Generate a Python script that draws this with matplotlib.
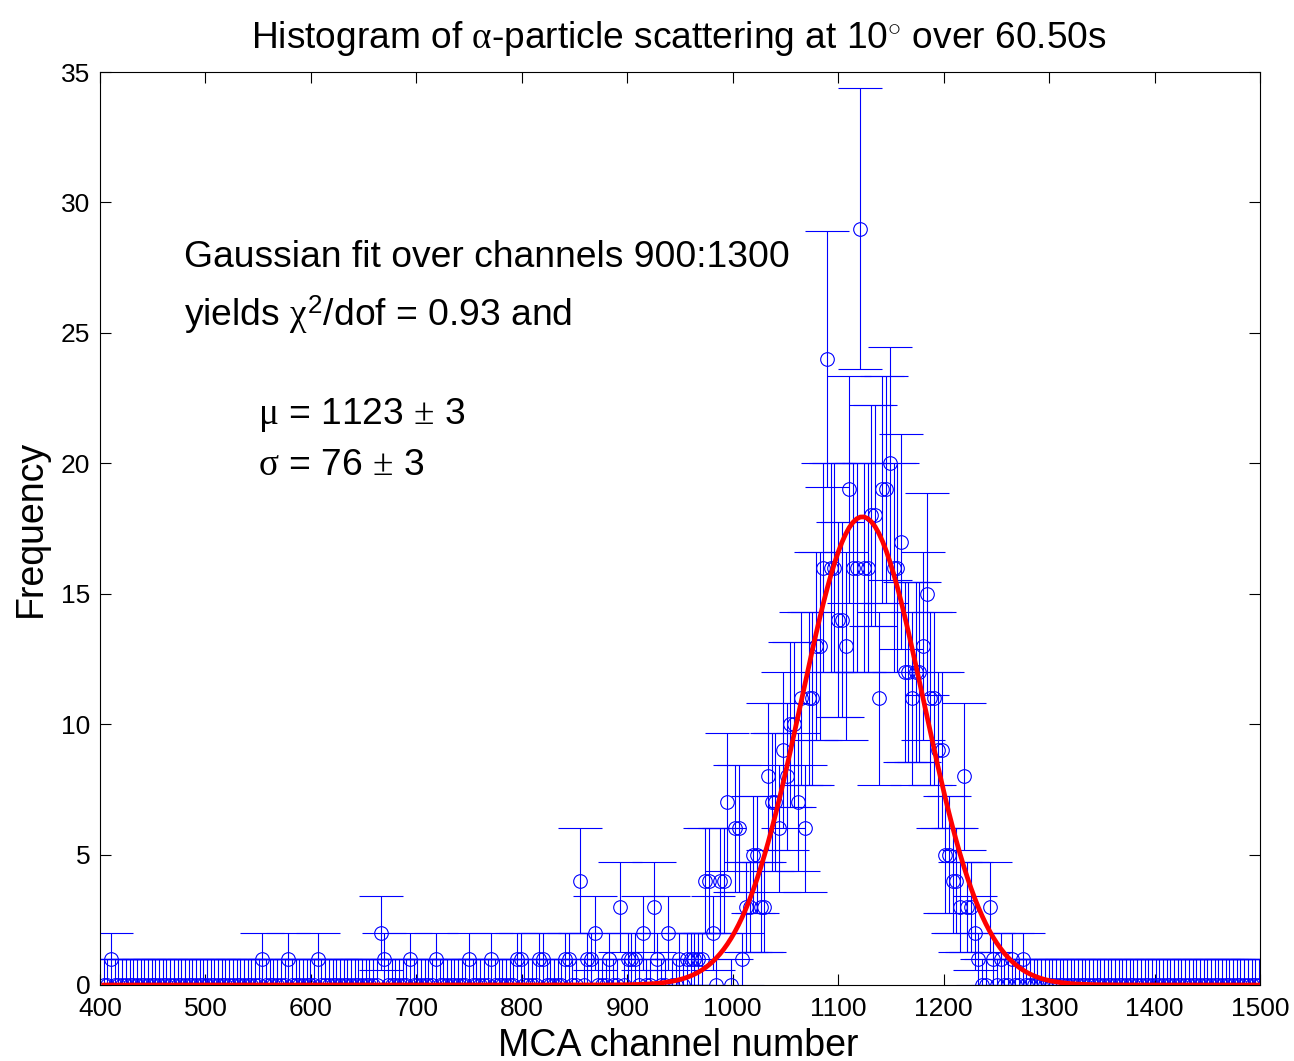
import numpy as np
import matplotlib
matplotlib.use('Agg')
import matplotlib.pyplot as plt

plt.rcParams['font.family'] = ['Liberation Sans', 'DejaVu Sans']
plt.rcParams['mathtext.fontset'] = 'custom'
plt.rcParams['mathtext.rm'] = 'Liberation Serif'
plt.rcParams['mathtext.it'] = 'Liberation Serif'
plt.rcParams['mathtext.sf'] = 'Liberation Sans'

# ---- data -------------------------------------------------------------
bin_start = 403.5      # first bin centre (MCA channel)
bin_width = 3.5        # channels per histogram bin
n_bins = 314

# non-empty bins (bin centre, counts); every other bin holds 0 counts
peak_channels = [410.5, 554, 578.5, 606.5, 666, 669.5, 694, 718.5, 750, 771,
                 795.5, 799, 816.5, 820, 841, 844.5, 855, 862, 865.5, 869,
                 883, 893.5, 900.5, 904, 907.5, 914.5, 925, 928.5, 939, 949.5,
                 956.5, 960, 963.5, 967, 970.5, 974, 977.5, 981, 988, 991.5,
                 995, 1002, 1005.5, 1009, 1012.5, 1016, 1019.5, 1023, 1026.5, 1030,
                 1033.5, 1037, 1040.5, 1044, 1047.5, 1051, 1054.5, 1058, 1061.5, 1065,
                 1068.5, 1072, 1075.5, 1079, 1082.5, 1086, 1089.5, 1093, 1096.5, 1100,
                 1103.5, 1107, 1110.5, 1114, 1117.5, 1121, 1124.5, 1128, 1131.5, 1135,
                 1138.5, 1142, 1145.5, 1149, 1152.5, 1156, 1159.5, 1163, 1166.5, 1170,
                 1173.5, 1177, 1180.5, 1184, 1187.5, 1191, 1194.5, 1198, 1201.5, 1205,
                 1208.5, 1212, 1215.5, 1219, 1222.5, 1226, 1229.5, 1233, 1243.5, 1247,
                 1254, 1264.5, 1275]
peak_counts = [1, 1, 1, 1, 2, 1, 1, 1, 1, 1,
               1, 1, 1, 1, 1, 1, 4, 1, 1, 2,
               1, 3, 1, 1, 1, 2, 3, 1, 2, 1,
               1, 1, 1, 1, 1, 4, 4, 2, 4, 4,
               7, 6, 6, 1, 3, 3, 5, 5, 3, 3,
               8, 7, 7, 6, 9, 8, 10, 10, 7, 11,
               6, 11, 11, 13, 13, 16, 24, 16, 16, 14,
               14, 13, 19, 16, 16, 29, 16, 16, 18, 18,
               11, 19, 19, 20, 16, 16, 17, 12, 12, 11,
               12, 12, 13, 15, 11, 11, 9, 9, 5, 5,
               4, 4, 3, 8, 3, 3, 2, 1, 3, 1,
               1, 1, 1]

# fitted curve as drawn (peak height, centre, width in plotted channels)
fit_amplitude = 17.95
fit_mu = 1123
fit_sigma = 58

title_text = r'Histogram of $\alpha$-particle scattering at 10$^{\circ}$ over 60.50s'
xlabel_text = 'MCA channel number'
ylabel_text = 'Frequency'
xticks = [400, 500, 600, 700, 800, 900, 1000, 1100, 1200, 1300, 1400, 1500]
yticks = [0, 5, 10, 15, 20, 25, 30, 35]

# ---- derived ----------------------------------------------------------
x = bin_start + bin_width * np.arange(n_bins)
counts = np.zeros(n_bins)
idx = np.rint((np.array(peak_channels) - bin_start) / bin_width).astype(int)
counts[idx] = peak_counts
err = np.sqrt(counts)
err[counts == 0] = 1.0
fit = fit_amplitude * np.exp(-0.5 * ((x - fit_mu) / fit_sigma) ** 2)

W, H = 1294, 1061
fig = plt.figure(figsize=(W / 100, H / 100), dpi=100)
fig.patch.set_facecolor('white')
ax = fig.add_axes([100 / W, 1 - 985 / H, 1160 / W, 913 / H])

blue = '#0000FF'
ax.errorbar(x, counts, yerr=err, fmt='o', mfc='none', mec=blue, ms=9.8, mew=0.8,
            ecolor=blue, elinewidth=0.8, capsize=15.5, capthick=0.8, zorder=2)
ax.plot(x, fit, color='#FF0000', lw=3.4, zorder=3, solid_joinstyle='miter')

ax.set_xlim(400, 1500)
ax.set_ylim(0, 35)
ax.set_xticks(xticks)
ax.set_yticks(yticks)
ax.tick_params(direction='in', length=8, width=0.8, top=True, right=True,
               labelsize=19, colors='black')
ax.tick_params(axis='x', pad=9)
ax.tick_params(axis='y', pad=7)
for s in ax.spines.values():
    s.set_linewidth(0.8)
    s.set_color('black')

def fx(px):
    return px / W

def fy(py):
    return 1 - py / H

fig.text(fx(679), fy(48), title_text, ha='center', va='baseline', fontsize=26.7)
fig.text(fx(678), fy(1056), xlabel_text, ha='center', va='baseline', fontsize=27)
fig.text(fx(31), fy(528), ylabel_text, ha='center', va='center', rotation=90, fontsize=27)

fa = 26.8
fig.text(fx(184), fy(267), 'Gaussian fit over channels 900:1300', ha='left', va='baseline', fontsize=fa)
fig.text(fx(184), fy(326), r'yields $\chi^{\mathsf{2}}$/dof = 0.93 and', ha='left', va='baseline', fontsize=fa)
fig.text(fx(258), fy(424), r'$\mu$ = 1123 $\pm$ 3', ha='left', va='baseline', fontsize=fa)
fig.text(fx(258), fy(475), r'$\sigma$ = 76 $\pm$ 3', ha='left', va='baseline', fontsize=fa)

fig.savefig('out.png', dpi=100, facecolor='white')
